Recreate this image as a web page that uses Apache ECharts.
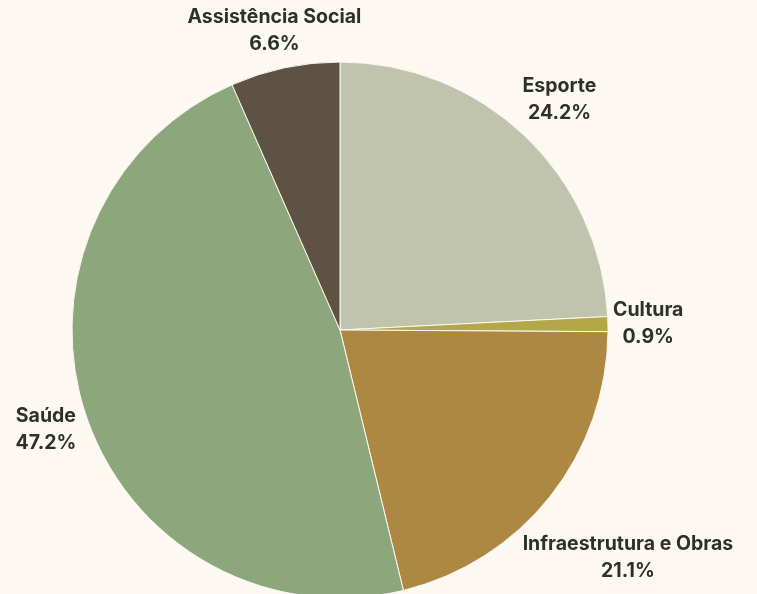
<!DOCTYPE html>
<html><head><meta charset="utf-8">
<script src="https://cdn.jsdelivr.net/npm/echarts@6/dist/echarts.min.js"></script>
<style>html,body{margin:0;padding:0;background:#fdf8f2;}#c{width:757px;height:594px;}</style>
</head><body><div id="c"></div>
<script>
const categories = ['Esporte', 'Cultura', 'Infraestrutura e Obras', 'Saúde', 'Assistência Social'];
const values = [24.2, 0.9, 21.1, 47.2, 6.6];
const colors = ['#c0c4ad', '#b2a74a', '#ad8843', '#8ba77b', '#5e5342'];

const CX = 340, CY = 330, R = 268;
const total = values.reduce((a, b) => a + b, 0);
const mids = [];
let acc = 0;
values.forEach(v => { mids.push(90 - (acc + v / 2) / total * 360); acc += v; });

const chart = echarts.init(document.getElementById('c'));
chart.setOption({
  backgroundColor: '#fdf8f2',
  animation: false,
  series: [{
    type: 'pie',
    center: [CX, CY],
    radius: R,
    startAngle: 90,
    clockwise: true,
    data: categories.map((n, i) => ({ name: n, value: values[i], itemStyle: { color: colors[i] } })),
    itemStyle: { borderColor: '#fdf8f2', borderWidth: 1 },
    label: {
      show: true,
      position: 'outside',
      alignTo: 'none',
      overflow: 'none',
      formatter: p => p.name + '\n' + p.percent.toFixed(1) + '%',
      fontFamily: 'Inter',
      fontWeight: 'bold',
      fontSize: 19.5,
      lineHeight: 27,
      color: '#2b3327',
      align: 'center'
    },
    labelLine: { show: false },
    emphasis: { disabled: true },
    labelLayout: function (p) {
      const a = mids[p.dataIndex] * Math.PI / 180;
      const w = p.labelRect.width / 2, h = p.labelRect.height / 2;
      const ext = 0.9 * w * Math.abs(Math.cos(a)) + h * Math.abs(Math.sin(a));
      const D = R + 8 + ext;
      let x = CX + D * Math.cos(a), y = CY - D * Math.sin(a);
      y = Math.max(y, h + 4);
      return { x: x, y: y, align: 'center', verticalAlign: 'middle' };
    }
  }]
});
</script></body></html>
